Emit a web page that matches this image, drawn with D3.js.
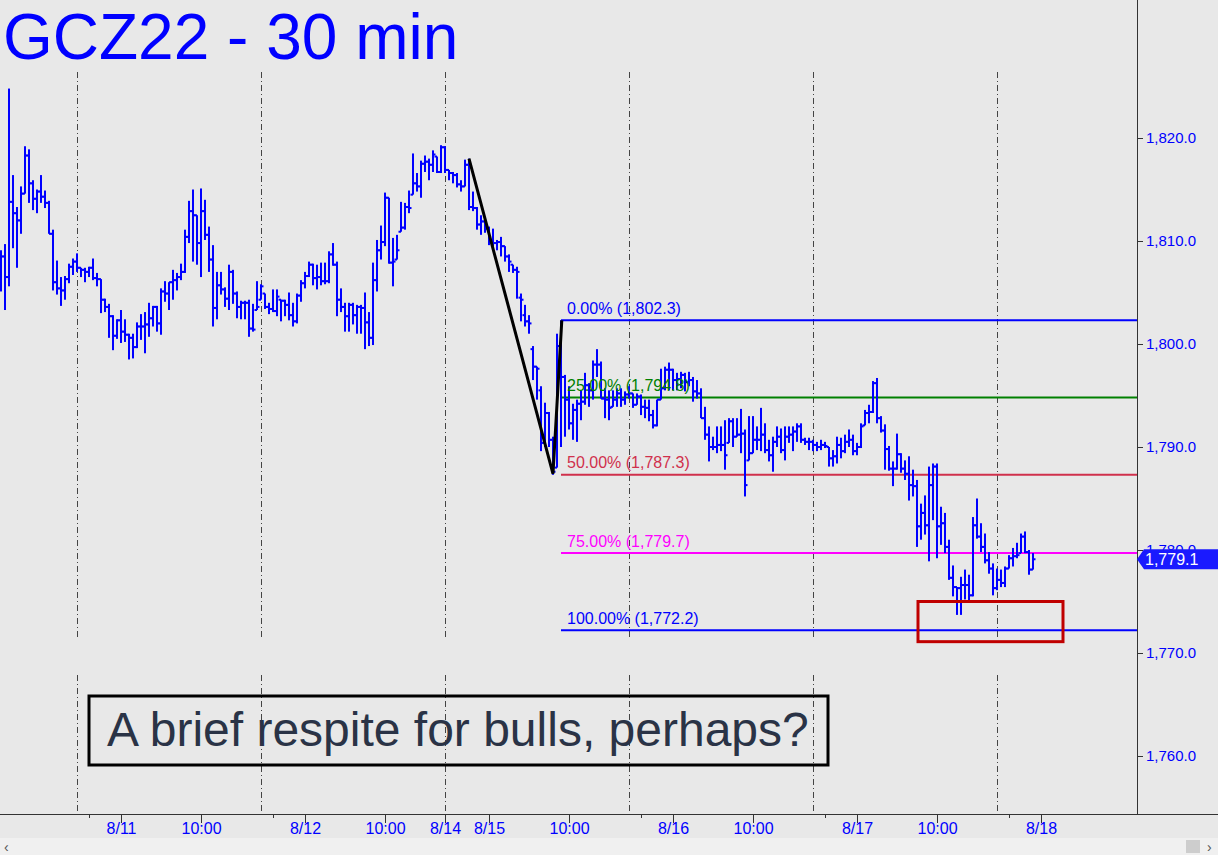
<!DOCTYPE html>
<html><head><meta charset="utf-8">
<script src="https://cdn.jsdelivr.net/npm/d3@7"></script>
<style>html,body{margin:0;padding:0;background:#e8e8e8;overflow:hidden}svg{display:block}</style>
</head><body>
<script>
const highs = [1809.1,1809.7,1824.8,1816.4,1813.3,1815.3,1819.2,1818.9,1815.9,1815.0,
1816.4,1814.9,1813.9,1811.1,1808.1,1806.5,1806.6,1807.8,1808.3,1808.8,
1807.4,1807.4,1807.5,1808.3,1806.9,1806.3,1804.4,1803.9,1802.8,1802.4,
1803.3,1802.4,1801.0,1801.0,1802.1,1802.9,1803.1,1804.0,1803.7,1803.7,
1805.4,1806.1,1806.0,1807.2,1806.9,1807.8,1811.1,1813.9,1815.0,1812.5,
1815.1,1814.0,1811.4,1809.6,1807.0,1807.0,1805.5,1807.7,1807.2,1805.1,
1804.2,1804.2,1804.3,1803.9,1806.1,1805.8,1804.9,1804.0,1805.3,1805.3,
1804.3,1804.3,1805.0,1804.0,1804.9,1806.2,1807.0,1808.0,1807.8,1807.7,
1807.9,1807.9,1809.0,1809.8,1808.0,1805.4,1804.0,1804.0,1804.0,1803.8,
1803.8,1805.0,1803.1,1807.9,1810.1,1811.5,1814.7,1814.2,1810.3,1810.6,
1813.8,1813.7,1814.9,1818.5,1816.6,1817.8,1818.3,1818.0,1818.8,1818.2,
1819.3,1819.2,1816.9,1816.7,1816.6,1815.9,1817.9,1818.0,1814.8,1813.3,
1812.5,1812.0,1811.4,1811.2,1810.1,1810.4,1809.5,1808.7,1807.7,1807.5,
1804.9,1803.8,1802.8,1799.8,1797.8,1795.9,1794.3,1793.4,1791.0,1801.0,
1802.3,1797.0,1795.9,1794.2,1794.6,1795.5,1797.2,1796.2,1798.4,1799.5,
1798.3,1795.7,1795.5,1795.5,1795.7,1795.7,1795.4,1795.9,1795.2,1795.2,
1795.1,1794.6,1794.6,1793.6,1794.6,1797.6,1797.8,1798.2,1797.6,1797.2,
1797.3,1797.2,1797.3,1796.8,1796.5,1795.7,1793.9,1792.0,1791.0,1792.0,
1792.0,1792.6,1792.8,1792.8,1792.8,1793.7,1791.7,1793.0,1793.0,1792.0,
1793.8,1792.3,1790.7,1791.0,1792.0,1791.8,1792.0,1792.0,1792.0,1792.3,
1792.3,1790.9,1790.9,1790.7,1790.5,1790.7,1790.5,1790.0,1789.7,1791.0,
1790.9,1791.2,1791.7,1791.2,1790.4,1792.3,1793.6,1794.1,1796.4,1796.7,
1793.0,1792.2,1790.1,1788.6,1791.3,1789.4,1788.7,1789.1,1787.8,1786.8,
1784.5,1785.3,1788.1,1788.4,1788.4,1784.2,1783.6,1781.0,1778.5,1776.4,
1777.4,1778.1,1777.6,1783.2,1785.0,1782.6,1781.6,1779.8,1778.7,1778.2,
1778.1,1778.4,1779.5,1780.2,1780.7,1781.6,1781.8,1780.0,1779.7];

const lows = [1805.1,1803.3,1805.6,1809.3,1807.4,1810.7,1814.6,1813.7,1813.0,1812.7,
1813.7,1813.2,1810.7,1805.2,1804.8,1803.7,1804.3,1805.9,1806.7,1807.0,
1806.5,1806.0,1806.5,1806.2,1805.6,1803.0,1803.1,1800.6,1799.4,1800.5,
1800.1,1800.2,1798.5,1798.6,1799.6,1800.4,1799.1,1800.7,1801.7,1801.2,
1800.9,1804.1,1803.3,1804.3,1805.2,1806.2,1806.9,1809.8,1808.0,1807.7,
1806.5,1810.1,1807.0,1801.7,1802.4,1804.8,1803.6,1803.3,1803.9,1802.5,
1802.4,1802.4,1800.7,1801.2,1803.3,1804.3,1803.4,1802.9,1803.1,1802.7,
1802.2,1802.7,1802.3,1801.7,1802.0,1804.1,1805.4,1806.5,1805.7,1805.3,
1805.7,1805.8,1805.9,1807.6,1802.7,1803.1,1801.2,1801.2,1801.9,1801.0,
1801.0,1799.5,1799.8,1799.9,1805.1,1808.2,1809.5,1807.8,1805.6,1808.2,
1810.9,1811.1,1812.7,1814.5,1814.8,1814.2,1816.7,1815.9,1816.7,1816.6,
1816.6,1816.6,1815.9,1815.6,1815.2,1814.8,1815.3,1813.0,1812.9,1811.1,
1810.6,1810.8,1809.6,1809.5,1809.1,1808.5,1808.0,1807.0,1806.9,1804.4,
1802.2,1801.7,1801.0,1796.5,1794.6,1789.6,1790.0,1790.0,1787.3,1788.0,
1790.0,1791.0,1791.7,1790.7,1790.5,1792.6,1794.1,1793.9,1794.6,1796.8,
1794.7,1792.8,1792.6,1793.9,1793.9,1793.9,1794.1,1794.7,1793.8,1794.1,
1793.1,1792.8,1792.5,1791.8,1792.0,1794.6,1795.5,1795.5,1795.5,1795.5,
1795.7,1795.4,1795.9,1794.4,1794.7,1792.8,1790.7,1788.6,1789.7,1789.4,
1789.6,1787.8,1790.4,1790.0,1791.0,1789.4,1785.2,1788.7,1789.4,1789.7,
1789.6,1789.4,1788.6,1787.6,1790.0,1789.4,1788.7,1790.4,1789.6,1790.5,
1790.4,1790.2,1789.7,1789.6,1789.6,1789.7,1789.9,1788.1,1788.1,1788.4,
1788.9,1789.4,1790.0,1789.2,1789.2,1789.9,1792.1,1792.3,1793.3,1792.3,
1791.4,1787.8,1787.7,1786.2,1787.8,1787.5,1786.8,1784.8,1785.2,1780.3,
1781.0,1781.5,1778.9,1782.9,1779.2,1780.5,1779.7,1777.1,1775.5,1773.7,
1773.7,1775.2,1775.0,1775.5,1781.1,1779.8,1778.7,1777.7,1775.6,1776.1,
1776.4,1776.4,1778.2,1778.4,1779.2,1779.7,1779.7,1777.6,1778.1];

const closes = [1808.5,1806.5,1813.8,1812.7,1812.0,1814.6,1818.3,1815.6,1814.1,1814.8,
1814.3,1813.7,1810.7,1806.0,1805.4,1805.2,1806.3,1807.5,1808.0,1807.4,
1807.2,1807.0,1807.4,1806.4,1806.3,1804.3,1803.6,1802.7,1800.8,1802.3,
1801.2,1800.9,1800.6,1799.7,1801.7,1801.7,1801.9,1802.5,1803.6,1802.0,
1805.1,1804.9,1806.0,1806.2,1806.5,1807.0,1810.4,1812.9,1812.5,1809.8,
1812.9,1810.6,1808.2,1803.5,1805.7,1805.3,1804.4,1807.0,1804.9,1803.6,
1804.0,1804.0,1801.5,1801.4,1803.6,1805.6,1803.6,1803.4,1803.2,1804.6,
1804.2,1803.8,1802.8,1802.2,1804.7,1805.9,1806.6,1807.7,1806.4,1806.5,
1806.1,1806.1,1808.7,1807.7,1804.3,1803.6,1802.7,1803.8,1802.8,1803.6,
1803.5,1802.1,1800.6,1806.2,1809.1,1809.9,1814.2,1807.9,1808.0,1809.1,
1811.3,1813.3,1813.2,1815.6,1815.3,1817.5,1817.7,1817.4,1818.4,1816.7,
1819.1,1816.9,1816.6,1816.4,1815.5,1815.3,1817.4,1813.3,1813.2,1811.6,
1811.9,1811.2,1809.9,1809.8,1809.9,1809.5,1808.5,1808.0,1807.2,1807.0,
1804.3,1802.2,1802.0,1797.8,1797.6,1790.4,1793.3,1790.7,1787.6,1799.8,
1796.8,1794.6,1792.3,1793.6,1794.2,1794.4,1796.0,1795.5,1798.0,1798.0,
1794.7,1794.6,1793.8,1794.6,1795.2,1794.6,1795.1,1795.2,1794.1,1794.9,
1793.9,1793.8,1793.1,1792.1,1794.6,1795.7,1797.5,1797.5,1796.5,1796.6,
1797.0,1796.3,1796.5,1795.4,1795.2,1792.8,1791.2,1790.0,1790.0,1790.2,
1790.2,1789.2,1792.5,1791.0,1791.2,1791.3,1786.3,1789.4,1790.7,1790.7,
1791.2,1789.7,1789.2,1790.5,1791.0,1789.7,1791.0,1791.2,1791.5,1792.0,
1790.7,1790.5,1790.5,1790.2,1790.0,1790.2,1790.1,1788.9,1789.1,1790.2,
1789.6,1790.5,1790.7,1789.6,1790.0,1792.0,1793.3,1793.4,1796.2,1792.8,
1791.6,1789.8,1787.9,1787.9,1789.3,1787.9,1787.4,1786.3,1786.2,1782.3,
1783.6,1782.4,1786.3,1788.1,1782.3,1782.6,1780.3,1777.3,1776.4,1776.3,
1776.6,1776.6,1775.6,1782.4,1781.3,1780.3,1779.0,1778.2,1776.3,1777.1,
1776.8,1778.2,1779.2,1779.4,1779.5,1781.3,1779.8,1778.1,1779.1];

const opens = [1806.0,1808.5,1806.5,1813.8,1812.7,1812.0,1814.6,1818.3,1815.6,1814.1,
1814.8,1814.3,1813.7,1810.7,1806.0,1805.4,1805.2,1806.3,1807.5,1808.0,
1807.4,1807.2,1807.0,1807.4,1806.4,1806.3,1804.3,1803.6,1802.7,1800.8,
1802.3,1801.2,1800.9,1800.6,1799.7,1801.7,1801.7,1801.9,1802.5,1803.6,
1802.0,1805.1,1804.9,1806.0,1806.2,1806.5,1807.0,1810.4,1812.9,1812.5,
1809.8,1812.9,1810.6,1808.2,1803.5,1805.7,1805.3,1804.4,1807.0,1804.9,
1803.6,1804.0,1804.0,1801.5,1801.4,1803.6,1805.6,1803.6,1803.4,1803.2,
1804.6,1804.2,1803.8,1802.8,1802.2,1804.7,1805.9,1806.6,1807.7,1806.4,
1806.5,1806.1,1806.1,1808.7,1807.7,1804.3,1803.6,1802.7,1803.8,1802.8,
1803.6,1803.5,1802.1,1800.6,1806.2,1809.1,1809.9,1814.2,1807.9,1808.0,
1809.1,1811.3,1813.3,1813.2,1815.6,1815.3,1817.5,1817.7,1817.4,1818.4,
1816.7,1819.1,1816.9,1816.6,1816.4,1815.5,1815.3,1817.4,1813.3,1813.2,
1811.6,1811.9,1811.2,1809.9,1809.8,1809.9,1809.5,1808.5,1808.0,1807.2,
1804.5,1802.8,1802.2,1799.5,1797.8,1795.5,1790.4,1793.3,1790.7,1788.0,
1799.8,1796.8,1794.6,1792.3,1793.6,1794.2,1794.4,1796.0,1795.5,1798.0,
1798.0,1794.7,1794.6,1793.8,1794.6,1795.2,1794.6,1795.1,1795.2,1794.1,
1794.9,1793.9,1793.8,1793.1,1792.1,1794.6,1795.7,1797.5,1797.5,1796.5,
1796.6,1797.0,1796.3,1796.5,1795.4,1795.2,1792.8,1791.2,1790.0,1790.0,
1790.2,1790.2,1789.2,1792.5,1791.0,1791.2,1791.3,1788.7,1789.4,1790.7,
1790.7,1791.2,1789.7,1789.2,1790.5,1791.0,1789.7,1791.0,1791.2,1791.5,
1792.0,1790.7,1790.5,1790.5,1790.2,1790.0,1790.2,1790.0,1788.9,1789.1,
1790.2,1789.6,1790.5,1790.7,1789.6,1790.0,1792.1,1793.3,1793.4,1796.2,
1792.8,1791.6,1789.8,1787.9,1787.9,1789.3,1787.9,1787.4,1786.3,1786.2,
1782.3,1783.6,1782.4,1786.3,1788.1,1782.3,1782.6,1780.3,1777.3,1776.4,
1776.3,1776.6,1776.6,1775.6,1782.4,1781.3,1780.3,1779.0,1778.2,1776.3,
1777.1,1776.8,1778.2,1779.2,1779.4,1779.5,1781.3,1779.8,1778.1];

// axis / annotation data
const yTicks = [1760, 1770, 1780, 1790, 1800, 1810, 1820];
const xTickIdx = [22, 30, 50, 68, 76, 96, 111, 122, 142, 160, 168, 188, 206, 214, 234, 252, 260];
const xTickLabels = ["", "8/11", "10:00", "", "8/12", "10:00", "8/14", "8/15", "10:00", "", "8/16", "10:00", "", "8/17", "10:00", "", "8/18"];
const sessionIdx = [19, 65, 111, 157, 203, 249];
const fibPct = ["0.00%", "25.00%", "50.00%", "75.00%", "100.00%"];
const fibVal = [1802.3, 1794.8, 1787.3, 1779.7, 1772.2];
const fibColor = ["#0000ff", "#008000", "#d0304c", "#ff00ff", "#0000ff"];
const fibStartIdx = 140;
const abcIdx = [117, 138, 140.2];
const abcVal = [1818.0, 1787.4, 1802.3];
const boxIdx = [229.25, 265.5];
const boxVal = [1775.0, 1771.1];
const lastPrice = 1779.1;
const title = "GCZ22 - 30 min";
const note = "A brief respite for bulls, perhaps?";

const W = 1218, H = 855;
const svg = d3.select("body").append("svg").attr("width", W).attr("height", H);
svg.append("rect").attr("width", W).attr("height", H).attr("fill", "#e8e8e8");

const x = d3.scaleLinear().domain([0, 284]).range([1, 1137]);
const y = d3.scaleLinear().domain([1760, 1820]).range([756, 138]);
const axisX = 1137, axisY = 814;
const FONT = "'Liberation Sans', Arial, sans-serif";

// session dashed lines
sessionIdx.forEach(i => {
  [[72, 637], [675, axisY]].forEach(seg => {
    svg.append("line").attr("x1", x(i) + 0.5).attr("x2", x(i) + 0.5)
      .attr("y1", seg[0]).attr("y2", seg[1])
      .attr("stroke", "#444").attr("stroke-width", 1)
      .attr("stroke-dasharray", "6,3,1,3");
  });
});

// fib lines
fibVal.forEach((v, k) => {
  svg.append("line").attr("x1", x(fibStartIdx)).attr("x2", axisX)
    .attr("y1", y(v)).attr("y2", y(v))
    .attr("stroke", fibColor[k]).attr("stroke-width", 2);
});

// bars
const g = svg.append("g").attr("fill", "#0000ff");
closes.forEach((c, i) => {
  const xi = Math.round(x(i));
  const yh = y(highs[i]), yl = y(lows[i]);
  g.append("rect").attr("x", xi - 1).attr("y", yh).attr("width", 2).attr("height", Math.max(1.5, yl - yh));
  const o = Math.max(lows[i], Math.min(highs[i], opens[i]));
  g.append("rect").attr("x", xi - 2.5).attr("y", y(o) - 1).attr("width", 2.5).attr("height", 2);
  g.append("rect").attr("x", xi).attr("y", y(c) - 1).attr("width", 2.5).attr("height", 2);
});

// fib labels
fibVal.forEach((v, k) => {
  svg.append("text").attr("x", 567).attr("y", y(v) - 6.5)
    .attr("fill", fibColor[k]).attr("font-family", FONT).attr("font-size", 16)
    .text(fibPct[k] + " (" + d3.format(",.1f")(v) + ")");
});

// ABC line
svg.append("path")
  .attr("d", d3.line()(abcIdx.map((d, k) => [x(d), y(abcVal[k])])))
  .attr("fill", "none").attr("stroke", "#000").attr("stroke-width", 3)
  .attr("stroke-linejoin", "miter");

// red target box
svg.append("rect").attr("x", x(boxIdx[0])).attr("y", y(boxVal[0]))
  .attr("width", x(boxIdx[1]) - x(boxIdx[0])).attr("height", y(boxVal[1]) - y(boxVal[0]))
  .attr("fill", "none").attr("stroke", "#c00000").attr("stroke-width", 3);

// y axis
const yAxis = d3.axisRight(y).tickValues(yTicks).tickFormat(d3.format(",.1f")).tickSize(6).tickPadding(3);
const ya = svg.append("g").attr("transform", `translate(${axisX},0)`).call(yAxis);
ya.select(".domain").remove();
ya.selectAll(".tick line").attr("stroke", "#333");
ya.selectAll("text").attr("fill", "#0000ff").attr("font-family", FONT).attr("font-size", 15);
svg.append("line").attr("x1", axisX + 0.5).attr("x2", axisX + 0.5).attr("y1", 0).attr("y2", axisY)
  .attr("stroke", "#333").attr("stroke-width", 1);

// x axis
const xAxis = d3.axisBottom(x).tickValues(xTickIdx).tickFormat((d, k) => xTickLabels[k]).tickSize(8).tickPadding(1);
const xa = svg.append("g").attr("transform", `translate(0,${axisY})`).call(xAxis);
xa.select(".domain").remove();
xa.selectAll(".tick line").attr("stroke", "#333").attr("y2", (d, k) => xTickLabels[k] ? 9 : 4);
xa.selectAll("text").attr("fill", "#0000ff").attr("font-family", FONT).attr("font-size", 16);
svg.append("line").attr("x1", 0).attr("x2", W).attr("y1", axisY + 0.5).attr("y2", axisY + 0.5)
  .attr("stroke", "#333").attr("stroke-width", 1);

// last price marker
const yp = y(lastPrice);
svg.append("path")
  .attr("d", `M${axisX},${yp} L${axisX + 7},${yp - 10} L${W},${yp - 10} L${W},${yp + 10} L${axisX + 7},${yp + 10} Z`)
  .attr("fill", "#1a1aff");
svg.append("text").attr("x", 1145).attr("y", yp + 5.5).attr("fill", "#fff")
  .attr("font-family", FONT).attr("font-size", 16).text(d3.format(",.1f")(lastPrice));

// title
svg.append("text").attr("x", 3).attr("y", 59).attr("fill", "#0000ff")
  .attr("font-family", FONT).attr("font-size", 64).text(title);

// note box
svg.append("rect").attr("x", 89).attr("y", 696).attr("width", 739).attr("height", 69)
  .attr("fill", "none").attr("stroke", "#000").attr("stroke-width", 3);
svg.append("text").attr("x", 107).attr("y", 746).attr("fill", "#2a3346")
  .attr("font-family", FONT).attr("font-size", 48).text(note);

// scrollbar
svg.append("rect").attr("x", 0).attr("y", 838).attr("width", W).attr("height", 17).attr("fill", "#f0f0f0");
svg.append("rect").attr("x", 1186).attr("y", 840).attr("width", 14).attr("height", 13).attr("fill", "#cdcdcd");
svg.append("text").attr("x", 4).attr("y", 852).attr("fill", "#555").attr("font-family", FONT).attr("font-size", 14).text("‹");
svg.append("text").attr("x", 1207).attr("y", 852).attr("fill", "#555").attr("font-family", FONT).attr("font-size", 14).text("›");
</script>
</body></html>
